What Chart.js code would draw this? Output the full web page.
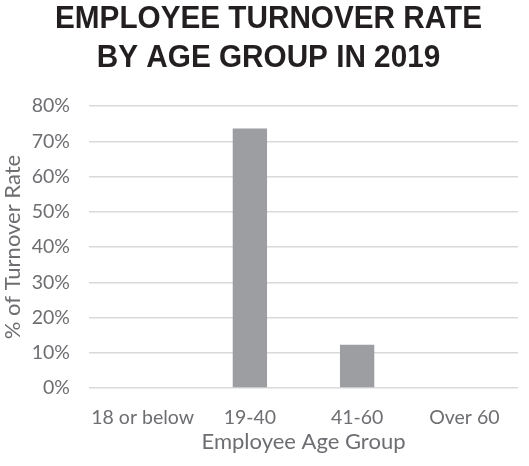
<!DOCTYPE html>
<html>
<head>
<meta charset="utf-8">
<script src="https://cdn.jsdelivr.net/npm/chart.js@4/dist/chart.umd.min.js"></script>
<style>
  html, body { margin: 0; padding: 0; background: #fff; }
  #wrap { width: 529px; height: 466px; position: relative; }
</style>
</head>
<body>
<div id="wrap"><canvas id="chart"></canvas></div>
<script>
// turnover data by age band, in percent
const ageGroups = ['18 or below', '19-40', '41-60', 'Over 60'];
const turnoverRate = [0, 73.6, 12.3, 0];
const titleLines = ['EMPLOYEE TURNOVER RATE', 'BY AGE GROUP IN 2019'];

const tickColor = '#6d6e71';
const labelFont = 'Lato, "Open Sans", sans-serif';

// bold, slightly condensed two-line heading above the plot
const condensedTitle = {
    id: 'condensedTitle',
    afterDraw(chart) {
        const ctx = chart.ctx;
        ctx.save();
        ctx.font = 'bold 32px "Liberation Sans", Arial, sans-serif';
        ctx.fillStyle = '#231f20';
        ctx.textAlign = 'center';
        ctx.textBaseline = 'alphabetic';
        const squeeze = 427 / ctx.measureText(titleLines[0]).width;
        ctx.translate(268.5, 0);
        ctx.scale(squeeze, 1);
        titleLines.forEach((line, i) => ctx.fillText(line, 0, 28 + i * 39));
        ctx.restore();
    }
};

new Chart(document.getElementById('chart'), {
    type: 'bar',
    data: {
        labels: ageGroups,
        datasets: [{
            data: turnoverRate,
            backgroundColor: '#9d9ea2',
            barPercentage: 0.32,
            categoryPercentage: 1
        }]
    },
    plugins: [condensedTitle],
    options: {
        responsive: true,
        maintainAspectRatio: false,
        animation: false,
        layout: { padding: { left: 0, right: 11, top: 106, bottom: 0 } },
        plugins: {
            legend: { display: false },
            tooltip: { enabled: false },
            title: { display: false }
        },
        scales: {
            x: {
                afterFit: s => { s.height = 78; },
                grid: { display: false, drawTicks: false },
                border: { display: false },
                ticks: {
                    color: tickColor,
                    font: { family: labelFont, size: 19.5 },
                    padding: 18,
                    maxRotation: 0,
                    autoSkip: false
                },
                title: {
                    display: true,
                    text: 'Employee Age Group',
                    color: tickColor,
                    font: { family: labelFont, size: 22 },
                    padding: { top: 0, bottom: 11 }
                }
            },
            y: {
                afterFit: s => { s.width = 89; },
                min: 0,
                max: 80,
                grid: { color: '#d9d9d9', lineWidth: 1.5, drawTicks: false },
                border: { display: false },
                ticks: {
                    stepSize: 10,
                    color: tickColor,
                    font: { family: labelFont, size: 19.5 },
                    padding: 19,
                    callback: v => v + '%'
                },
                title: {
                    display: true,
                    text: '% of Turnover Rate',
                    color: tickColor,
                    font: { family: labelFont, size: 22 },
                    padding: { top: 0, bottom: 0 }
                }
            }
        }
    }
});
</script>
</body>
</html>
